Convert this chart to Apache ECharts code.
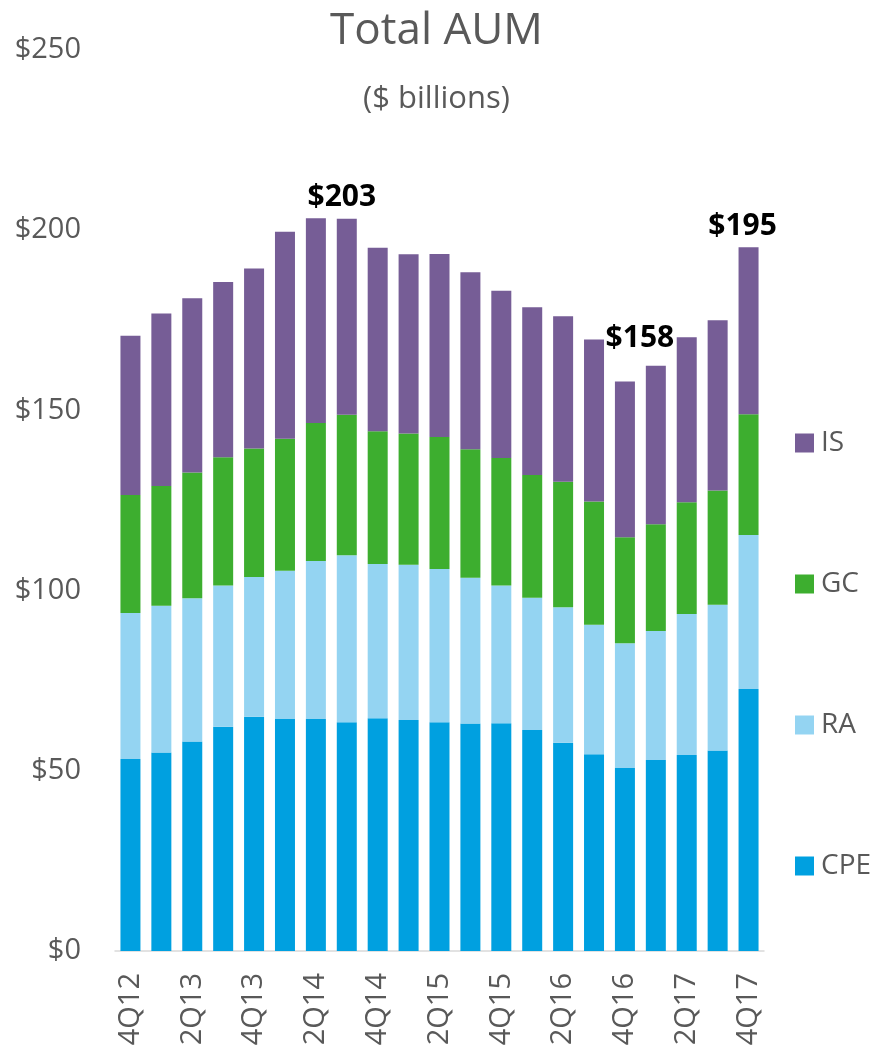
<!DOCTYPE html>
<html>
<head>
<meta charset="utf-8">
<title>Total AUM</title>
<script src="https://cdn.jsdelivr.net/npm/echarts@6/dist/echarts.min.js"></script>
<style>
  html, body { margin: 0; padding: 0; background: #fff; }
  #chart { width: 873px; height: 1053px; }
</style>
</head>
<body>
<div id="chart"></div>
<script>
const quarters = ['4Q12', '1Q13', '2Q13', '3Q13', '4Q13', '1Q14', '2Q14', '3Q14', '4Q14', '1Q15', '2Q15',
  '3Q15', '4Q15', '1Q16', '2Q16', '3Q16', '4Q16', '1Q17', '2Q17', '3Q17', '4Q17'];

// $ billions
const cpe = [53.3, 55.1, 58.1, 62.2, 65.0, 64.4, 64.4, 63.5, 64.6, 64.1, 63.5, 63.1, 63.2, 61.3, 57.8, 54.6, 50.8, 53.0, 54.4, 55.6, 72.7];
const ra = [40.5, 40.7, 39.8, 39.2, 38.8, 41.1, 43.8, 46.3, 42.8, 43.1, 42.5, 40.5, 38.2, 36.7, 37.6, 35.9, 34.6, 35.8, 39.1, 40.5, 42.7];
const gc = [32.7, 33.2, 34.9, 35.6, 35.6, 36.6, 38.3, 39.0, 36.8, 36.4, 36.6, 35.6, 35.4, 34.1, 34.8, 34.2, 29.4, 29.6, 31.0, 31.7, 33.5];
const is = [44.2, 47.9, 48.3, 48.6, 50.0, 57.5, 56.8, 54.4, 50.9, 49.7, 50.8, 49.1, 46.4, 46.5, 45.9, 45.0, 43.2, 44.0, 45.8, 47.2, 46.4];

// which bars get a total callout, and how far it is nudged
const callouts = { 7: [-5, 0], 16: [15, -22], 20: [-6, 0] };

const font = '"Open Sans", "Noto Sans", sans-serif';
const grey = '#595959';

const totals = quarters.map((q, i) => cpe[i] + ra[i] + gc[i] + is[i]);

const isData = is.map((v, i) => {
  if (!(i in callouts)) return v;
  return {
    value: v,
    label: {
      show: true,
      position: 'top',
      distance: 6,
      offset: callouts[i],
      formatter: () => '$' + Math.round(totals[i]),
      fontFamily: font,
      fontSize: 30,
      fontWeight: 'bold',
      color: '#000'
    }
  };
});

const chart = echarts.init(document.getElementById('chart'));

chart.setOption({
  animation: false,
  title: [
    {
      text: 'Total AUM',
      left: 'center',
      top: 9,
      padding: [0, 0, 0, 12],
      textStyle: { fontFamily: font, fontSize: 44, fontWeight: 'normal', color: grey }
    },
    {
      text: '($ billions)',
      left: 'center',
      top: 84,
      padding: [0, 0, 0, 12],
      textStyle: { fontFamily: font, fontSize: 31, fontWeight: 'normal', color: grey }
    }
  ],
  legend: {
    orient: 'vertical',
    left: 790,
    top: 424,
    itemWidth: 19,
    itemHeight: 19,
    itemGap: 113,
    icon: 'rect',
    data: ['IS', 'GC', 'RA', 'CPE'],
    textStyle: { fontFamily: font, fontSize: 28, color: grey, padding: [0, 0, 0, 2] }
  },
  grid: {
    left: 115,
    right: 109,
    top: 50,
    bottom: 102
  },
  xAxis: {
    type: 'category',
    data: quarters,
    axisLine: { lineStyle: { color: '#d9d9d9', width: 1.5 } },
    axisTick: { show: false },
    axisLabel: {
      interval: 1,
      rotate: 90,
      margin: 22,
      fontFamily: font,
      fontSize: 29,
      color: grey
    }
  },
  yAxis: {
    type: 'value',
    min: 0,
    max: 250,
    interval: 50,
    axisLine: { show: false },
    axisTick: { show: false },
    splitLine: { show: false },
    axisLabel: {
      margin: 34,
      fontFamily: font,
      fontSize: 29,
      color: grey,
      formatter: v => '$' + v
    }
  },
  series: [
    { name: 'CPE', type: 'bar', stack: 'aum', barWidth: 20, data: cpe, itemStyle: { color: '#00A0E0' } },
    { name: 'RA', type: 'bar', stack: 'aum', barWidth: 20, data: ra, itemStyle: { color: '#94D4F2' } },
    { name: 'GC', type: 'bar', stack: 'aum', barWidth: 20, data: gc, itemStyle: { color: '#3DAE2F' } },
    { name: 'IS', type: 'bar', stack: 'aum', barWidth: 20, data: isData, itemStyle: { color: '#765D96' } }
  ]
});

window.addEventListener('resize', () => chart.resize());
</script>
</body>
</html>
